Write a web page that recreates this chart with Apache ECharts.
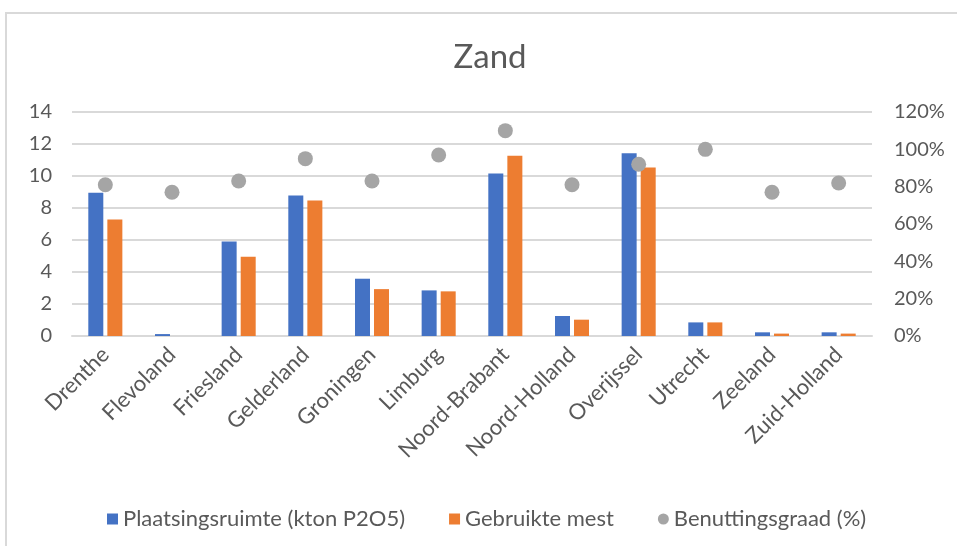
<!DOCTYPE html>
<html>
<head>
<meta charset="utf-8">
<script src="https://cdn.jsdelivr.net/npm/echarts@6/dist/echarts.min.js"></script>
<style>
  html, body { margin: 0; padding: 0; background: #ffffff; }
  #chart { width: 957px; height: 546px; }
</style>
</head>
<body>
<div id="chart"></div>
<script>
// Provinces (sandy soils)
const provinces = ['Drenthe', 'Flevoland', 'Friesland', 'Gelderland', 'Groningen', 'Limburg',
  'Noord-Brabant', 'Noord-Holland', 'Overijssel', 'Utrecht', 'Zeeland', 'Zuid-Holland'];

// Placement room, kton P2O5
const plaatsingsruimte = [8.95, 0.12, 5.91, 8.78, 3.58, 2.85, 10.15, 1.25, 11.42, 0.85, 0.23, 0.23];

// Manure actually used, kton P2O5
const gebruikteMest = [7.28, 0, 4.95, 8.47, 2.93, 2.79, 11.26, 1.02, 10.53, 0.85, 0.15, 0.15];

// Utilisation rate (fraction)
const benuttingsgraad = [0.81, 0.77, 0.83, 0.95, 0.83, 0.97, 1.10, 0.81, 0.92, 1.00, 0.77, 0.82];

const leftTicks = { min: 0, max: 14, interval: 2 };
const rightTicks = { min: 0, max: 1.2, interval: 0.2 };

const FONT = 'Lato, "Noto Sans", sans-serif';
const TEXT = '#595959';
const GRID = '#d9d9d9';

const chart = echarts.init(document.getElementById('chart'), null, { renderer: 'canvas' });

chart.setOption({
  backgroundColor: '#ffffff',
  animation: false,
  textStyle: { fontFamily: FONT },
  graphic: [{
    type: 'rect',
    shape: { x: 6, y: 13, width: 1000, height: 600 },
    style: { fill: 'none', stroke: GRID, lineWidth: 2 },
    silent: true
  }],
  title: {
    text: 'Zand',
    left: 485,
    top: 36,
    textAlign: 'center',
    textStyle: { fontFamily: FONT, fontSize: 33, fontWeight: 'normal', color: TEXT }
  },
  legend: {
    left: 102,
    top: 503,
    itemWidth: 11,
    itemHeight: 11,
    itemGap: 44,
    textStyle: { fontFamily: FONT, fontSize: 22, color: TEXT },
    data: [
      { name: 'Plaatsingsruimte (kton P2O5)', icon: 'rect' },
      { name: 'Gebruikte mest', icon: 'rect' },
      { name: 'Benuttingsgraad (%)', icon: 'circle' }
    ]
  },
  grid: { left: 72, right: 85, top: 112, bottom: 210, containLabel: false },
  xAxis: {
    type: 'category',
    data: provinces,
    axisLine: { lineStyle: { color: GRID, width: 2 } },
    axisTick: { show: false },
    axisLabel: {
      rotate: 45,
      margin: 15,
      interval: 0,
      fontFamily: FONT,
      fontSize: 22,
      color: TEXT
    }
  },
  yAxis: [{
    type: 'value',
    min: leftTicks.min,
    max: leftTicks.max,
    interval: leftTicks.interval,
    axisLine: { show: false },
    axisTick: { show: false },
    splitLine: { lineStyle: { color: GRID, width: 2 } },
    axisLabel: { margin: 20, fontFamily: FONT, fontSize: 20, color: TEXT }
  }, {
    type: 'value',
    min: rightTicks.min,
    max: rightTicks.max,
    interval: rightTicks.interval,
    position: 'right',
    axisLine: { show: false },
    axisTick: { show: false },
    splitLine: { show: false },
    axisLabel: {
      margin: 22,
      fontFamily: FONT,
      fontSize: 20,
      color: TEXT,
      formatter: v => Math.round(v * 100) + '%'
    }
  }],
  series: [{
    name: 'Plaatsingsruimte (kton P2O5)',
    type: 'bar',
    yAxisIndex: 0,
    data: plaatsingsruimte,
    barWidth: 15,
    barGap: '27%',
    itemStyle: { color: '#4472C4' }
  }, {
    name: 'Gebruikte mest',
    type: 'bar',
    yAxisIndex: 0,
    data: gebruikteMest,
    barWidth: 15,
    barGap: '27%',
    itemStyle: { color: '#ED7D31' }
  }, {
    name: 'Benuttingsgraad (%)',
    type: 'scatter',
    yAxisIndex: 1,
    data: benuttingsgraad,
    symbolSize: 15,
    itemStyle: { color: '#A5A5A5', opacity: 1 }
  }]
});
</script>
</body>
</html>
